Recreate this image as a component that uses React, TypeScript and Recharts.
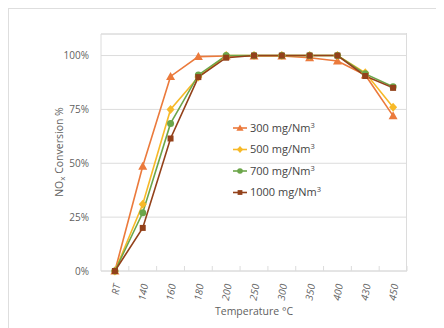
import { LineChart, Line, XAxis, YAxis, CartesianGrid, ReferenceLine } from "recharts";

// temperatures on the x axis
const temps = ["RT", "140", "160", "180", "200", "250", "300", "350", "400", "430", "450"];

// NOx conversion (fraction) per inlet concentration
const c300 = [0, 0.486, 0.903, 0.995, 0.998, 0.998, 0.998, 0.99, 0.975, 0.91, 0.72];
const c500 = [0, 0.31, 0.75, 0.9, 1.0, 1.0, 1.0, 1.0, 1.0, 0.92, 0.76];
const c700 = [0, 0.27, 0.685, 0.91, 1.0, 1.0, 1.0, 1.0, 1.0, 0.915, 0.855];
const c1000 = [0, 0.2, 0.615, 0.9, 0.99, 1.0, 1.0, 1.0, 1.0, 0.905, 0.85];

const yTicks = [0, 0.25, 0.5, 0.75, 1];

const data = temps.map((t, i) => ({ t, c300: c300[i], c500: c500[i], c700: c700[i], c1000: c1000[i] }));

const series = [
  { key: "c300", name: "300", color: "#EB7A3C", shape: "triangle" },
  { key: "c500", name: "500", color: "#F7B928", shape: "diamond" },
  { key: "c700", name: "700", color: "#6CA64A", shape: "circle" },
  { key: "c1000", name: "1000", color: "#93411A", shape: "square" },
];

const FONT = "'Open Sans', 'Liberation Sans', sans-serif";
const TEXT = "#5f5f5f";
const GRID = "#dcdcdc";

const W = 436;
const H = 320;
const M = { top: 25, right: 38, left: 0, bottom: 0 };
const Y_W = 92;
const X_H = 58;
const band = (W - M.left - M.right - Y_W) / temps.length;

const marker = (shape: string, cx: number, cy: number, color: string, s = 1, key?: string) => {
  if (shape === "triangle")
    return (
      <path
        key={key}
        d={`M${cx},${cy - 4.5 * s}L${cx + 4.5 * s},${cy + 3.5 * s}L${cx - 4.5 * s},${cy + 3.5 * s}Z`}
        fill={color}
      />
    );
  if (shape === "diamond")
    return (
      <path
        key={key}
        d={`M${cx},${cy - 4.5 * s}L${cx + 4 * s},${cy}L${cx},${cy + 4.5 * s}L${cx - 4 * s},${cy}Z`}
        fill={color}
      />
    );
  if (shape === "circle") return <circle key={key} cx={cx} cy={cy} r={3.5 * s} fill={color} />;
  return <rect key={key} x={cx - 3 * s} y={cy - 3 * s} width={6 * s} height={6 * s} fill={color} />;
};

const makeDot = (shape: string, color: string) => (p: any) =>
  marker(shape, p.cx, p.cy, color, 1, `${shape}-${p.index}`);

const XTick = (p: any) => {
  const { x, y, payload } = p;
  return (
    <g>
      <line x1={x + band / 2} x2={x + band / 2} y1={y - 8} y2={y - 13} stroke={GRID} />
      <text
        transform={`translate(${x + 2},${y + 5}) rotate(-80)`}
        textAnchor="end"
        dy="0.35em"
        fontSize={10}
        fill={TEXT}
        fontFamily={FONT}
        fontStyle="italic"
      >
        {payload.value}
      </text>
    </g>
  );
};

const YLabel = () => (
  <text
    transform="translate(50,143) rotate(-90)"
    textAnchor="middle"
    dy="0.35em"
    fontSize={10.5}
    fill={TEXT}
    fontFamily={FONT}
  >
    NO<tspan fontSize={8} dy="2">x</tspan>
    <tspan dy="-2"> Conversion %</tspan>
  </text>
);

const LegendBox = () => (
  <svg width={120} height={90}>
    {series.map((s, i) => {
      const cy = 8 + i * 21.5;
      return (
        <g key={s.key}>
          <line x1={0} x2={14} y1={cy} y2={cy} stroke={s.color} strokeWidth={1.6} />
          {marker(s.shape, 7, cy, s.color, 0.8)}
          <text x={17} y={cy} dy="0.35em" fontSize={11} fill="#444" fontFamily={FONT}>
            {s.name} mg/Nm<tspan fontSize={7.5} dy="-4">3</tspan>
          </text>
        </g>
      );
    })}
  </svg>
);

export default function App() {
  return (
    <div
      style={{
        position: "relative",
        width: W,
        height: H,
        borderTop: "1px solid #dedede",
        borderLeft: "1px solid #dedede",
        boxSizing: "border-box",
        background: "#fff",
      }}
    >
      <div style={{ position: "absolute", left: 0, top: 0 }}>
        <LineChart width={W} height={H} data={data} margin={M}>
          <CartesianGrid vertical={false} stroke={GRID} />
          <XAxis
            dataKey="t"
            height={X_H}
            stroke={GRID}
            tickLine={false}
            tick={<XTick />}
            interval={0}
            padding={{ left: band / 2, right: band / 2 }}
            label={{
              value: "Temperature °C",
              position: "insideBottom",
              offset: 14,
              fontSize: 10.5,
              fill: TEXT,
              fontFamily: FONT,
            }}
          />
          <YAxis
            width={Y_W}
            domain={[0, 1.1]}
            ticks={yTicks}
            tickFormatter={(v: number) => `${Math.round(v * 100)}%`}
            stroke={GRID}
            tickLine={false}
            tickMargin={6}
            tick={{ fontSize: 10, fill: TEXT, fontFamily: FONT }}
            label={<YLabel />}
          />
          <ReferenceLine y={1.1} stroke={GRID} />
          {series.map((s) => (
            <Line
              key={s.key}
              dataKey={s.key}
              stroke={s.color}
              strokeWidth={1.6}
              dot={makeDot(s.shape, s.color)}
              activeDot={false}
              isAnimationActive={false}
            />
          ))}
        </LineChart>
      </div>
      <div style={{ position: "absolute", left: 224, top: 111 }}>
        <LegendBox />
      </div>
      <div
        style={{
          position: "absolute",
          left: 92 + 306 - 1,
          top: 24,
          width: 1,
          height: 238,
          background: GRID,
        }}
      />
    </div>
  );
}
